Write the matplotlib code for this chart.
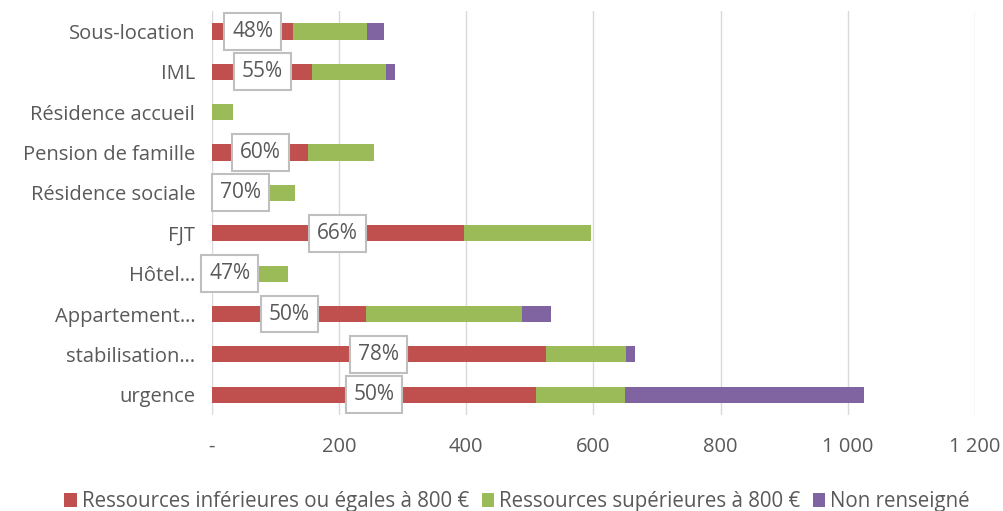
import matplotlib.pyplot as plt
import numpy as np

plt.rcParams['font.family'] = ['Open Sans', 'DejaVu Sans']

# categories from bottom to top
categories = ['urgence', 'stabilisation…', 'Appartement…', 'Hôtel…', 'FJT',
              'Résidence sociale', 'Pension de famille', 'Résidence accueil',
              'IML', 'Sous-location']
low_income = [510, 525, 243, 56, 396, 91, 152, 0, 158, 128]
high_income = [140, 126, 245, 63, 201, 40, 103, 34, 116, 116]
unknown = [375, 14, 46, 0, 0, 0, 0, 0, 14, 26]
share_labels = ['50%', '78%', '50%', '47%', '66%', '70%', '60%', '', '55%', '48%']

series_names = ['Ressources inférieures ou égales à 800 €',
                'Ressources supérieures à 800 €',
                'Non renseigné']
colors = ['#C0504D', '#9BBB59', '#8064A2']

fig = plt.figure(figsize=(10.04, 5.11), dpi=100)
ax = fig.add_axes([0.211, 0.188, 0.76, 0.79])

y = np.arange(len(categories))
low = np.array(low_income)
high = np.array(high_income)
unk = np.array(unknown)

ax.barh(y, low, height=0.4, color=colors[0], label=series_names[0], zorder=2)
ax.barh(y, high, left=low, height=0.4, color=colors[1], label=series_names[1], zorder=2)
ax.barh(y, unk, left=low + high, height=0.4, color=colors[2], label=series_names[2], zorder=2)

for yi, v, lab in zip(y, low, share_labels):
    if lab:
        ax.text(v / 2, yi, lab, ha='center', va='center', fontsize=15, color='#595959',
                zorder=4,
                bbox=dict(boxstyle='square,pad=0.38', fc='white', ec='#BFBFBF', lw=1.5))

ax.set_xlim(0, 1200)
ax.set_ylim(-0.5, len(categories) - 0.5)
ax.set_xticks(np.arange(0, 1201, 200))
ax.set_xticklabels(['-', '200', '400', '600', '800', '1 000', '1 200'])
ax.set_yticks(y)
ax.set_yticklabels(categories)
ax.tick_params(axis='both', length=0, labelsize=14.5, colors='#595959')
ax.tick_params(axis='x', pad=16)
ax.tick_params(axis='y', pad=12)
ax.grid(axis='x', color='#D9D9D9', lw=1, zorder=0)
for s in ax.spines.values():
    s.set_visible(False)

ax.legend(loc='center', bbox_to_anchor=(0.40, -0.215), ncol=3, frameon=False,
          fontsize=14.8, labelcolor='#595959', handlelength=0.6, handleheight=0.6,
          handletextpad=0.25, columnspacing=0.6, borderaxespad=0, borderpad=0)

fig.savefig('out.png', dpi=100)
